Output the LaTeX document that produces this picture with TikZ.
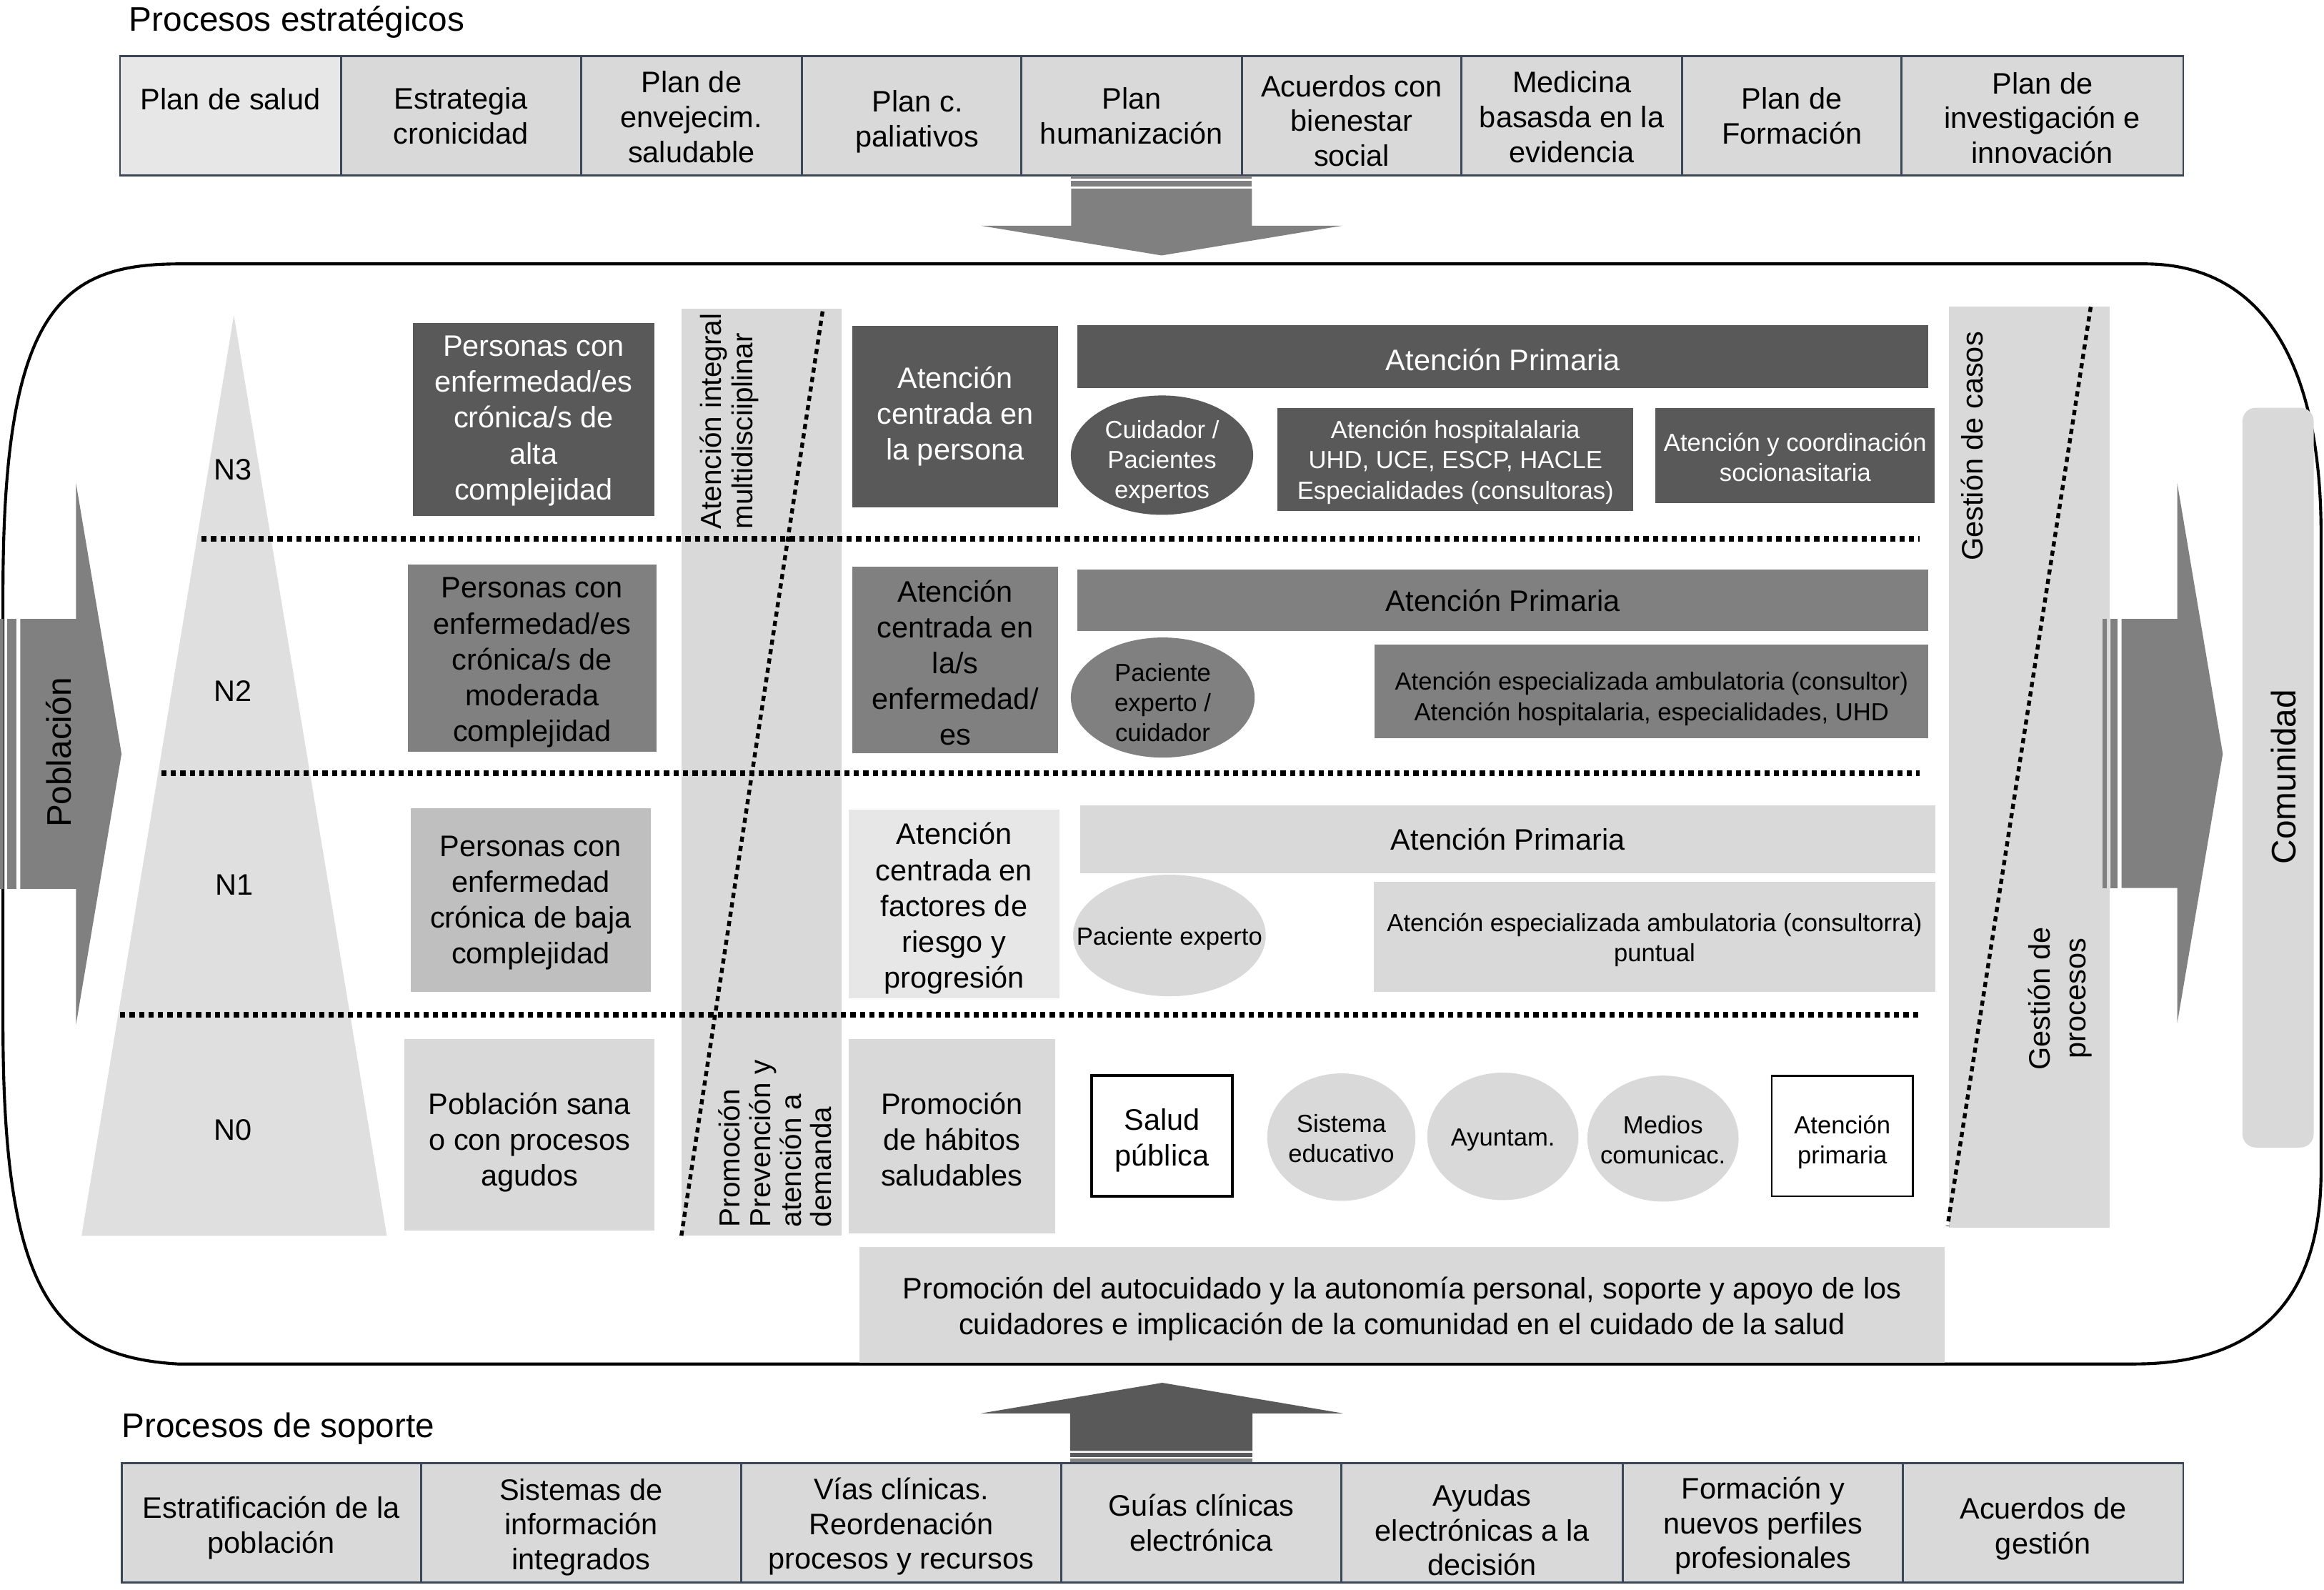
\documentclass[tikz,border=0pt]{standalone}
\usepackage{fontspec}
\setmainfont{Liberation Sans}
\usetikzlibrary{shapes.geometric}
\definecolor{dk}{HTML}{595959}
\definecolor{md}{HTML}{808080}
\definecolor{lt}{HTML}{BFBFBF}
\definecolor{ll}{HTML}{D9D9D9}
\definecolor{vl}{HTML}{E7E7E7}
\definecolor{tri}{HTML}{DFDFDF}
\definecolor{bord}{HTML}{3B4656}
\newcommand\myfs[2]{\fontsize{#1}{#2}\selectfont}
\tikzset{
 cell/.style={draw=bord, line width=1.4pt, fill=ll, inner sep=0pt, align=center, font=\myfs{20}{23.5}},
 blk/.style={inner sep=0pt, align=center, font=\myfs{20}{24.2}},
 sml/.style={inner sep=0pt, align=center, font=\myfs{16.7}{20.3}},
 ellb/.style={ellipse, inner sep=0pt},
 txt/.style={inner sep=0pt, align=center},
 rtxt/.style={rotate=90, inner sep=0pt},
 hdot/.style={line width=3.5pt, dash pattern=on 3.5pt off 2.9pt},
 ddot/.style={line width=2.6pt, dash pattern=on 3.5pt off 2.9pt},
}
% box (style, name, x, y, width, height, text y-offset, text)
\newcommand\bx[8]{%
  \node[#1, minimum width=#5pt, minimum height=#6pt] (#2) at (#3,#4) {};
  \node[#1, fill=none, draw=none, minimum width=0pt, minimum height=0pt] (#2t) at (#3,#4+#7) {#8};}
\begin{document}
\begin{tikzpicture}[x=1pt,y=-1pt]
\useasboundingbox (0,0) rectangle (1568,1072);

% ---------- main container ----------
\draw[line width=2pt] (121,178) -- (1447,178)
  .. controls (1530,178) and (1566,250) .. (1566,360) -- (1566,790)
  .. controls (1566,880) and (1520,920) .. (1440,920) -- (120,920)
  .. controls (35,915) and (2,870) .. (2,690) -- (2,400)
  .. controls (2,210) and (40,178) .. (121,178) -- cycle;

% ---------- titles ----------
\node[anchor=base west, inner sep=0pt, font=\myfs{23}{27}] (t1) at (87,21) {Procesos estratégicos};
\node[anchor=base west, inner sep=0pt, font=\myfs{23}{27}] (t2) at (82,969.5) {Procesos de soporte};

% ---------- top row (procesos estrategicos) ----------
\bx{cell, fill=vl}{s1}{155.5}{78}{149}{80.4}{-11}{Plan de salud}
\bx{cell}{s2}{311}{78}{162}{80.4}{0}{Estrategia\\cronicidad}
\bx{cell}{s3}{466.5}{78}{149}{80.4}{1}{Plan de\\envejecim.\\saludable}
\node[cell, minimum width=148pt, minimum height=80.4pt] (s4) at (615,78) {};
\node[cell, fill=none, draw=none] (s4t) at (619,82) {Plan c.\\paliativos};
\bx{cell}{s5}{763.5}{78}{149}{80.4}{0}{Plan\\humanización}
\bx{cell}{s6}{912}{78}{148}{80.4}{3.5}{Acuerdos con\\bienestar\\social}
\bx{cell}{s7}{1060.5}{78}{149}{80.4}{1}{Medicina\\basasda en la\\evidencia}
\bx{cell}{s8}{1209}{78}{148}{80.4}{0}{Plan de\\Formación}
\bx{cell}{s9}{1378}{78}{190}{80.4}{1.5}{Plan de\\investigación e\\innovación}

% ---------- top arrow ----------
\fill[md] (722.7,118.6) rectangle (844.7,120.5);
\fill[md] (722.7,122) rectangle (844.7,125.6);
\fill[md] (722.7,127.2) -- (844.7,127.2) -- (844.7,152.2) -- (905.8,152.2)
  -- (783.7,172.3) -- (661.6,152.2) -- (722.7,152.2) -- cycle;

% ---------- pyramid and columns ----------
\fill[tri] (157.8,212.6) -- (261,833.6) -- (55,833.6) -- cycle;
\node[inner sep=0pt, fill=ll, minimum width=108pt, minimum height=625.6pt] (col3) at (514,520.8) {};
\node[inner sep=0pt, fill=ll, minimum width=108.4pt, minimum height=621pt] (gest) at (1369.2,517.5) {};
\node[inner sep=0pt, fill=ll, rounded corners=9pt, minimum width=48pt, minimum height=499pt] (com) at (1537,524.5) {};

% ---------- level labels ----------
\node[txt, font=\myfs{20}{24}] (n3) at (157,317) {N3};
\node[txt, font=\myfs{20}{24}] (n2) at (157,466) {N2};
\node[txt, font=\myfs{20}{24}] (n1) at (158,597) {N1};
\node[txt, font=\myfs{20}{24}] (n0) at (157,762) {N0};

% ---------- column 2: population groups ----------
\bx{blk, fill=dk, text=white}{p3}{360}{282.9}{163}{130.3}{1}{Personas con\\enfermedad/es\\crónica/s de\\alta\\complejidad}
\bx{blk, fill=md}{p2}{359}{444}{168}{126}{3}{Personas con\\enfermedad/es\\crónica/s de\\moderada\\complejidad}
\bx{blk, fill=lt}{p1}{358}{607}{162}{124}{2}{Personas con\\enfermedad\\crónica de baja\\complejidad}
\bx{blk, fill=ll}{p0}{357.3}{765.5}{168.6}{129}{5}{Población sana\\o con procesos\\agudos}

% ---------- column 4: type of care ----------
\bx{blk, fill=dk, text=white}{c3}{644.5}{280.8}{139}{122.4}{0}{Atención\\centrada en\\la persona}
\bx{blk, fill=md}{c2}{644.5}{445}{139}{126}{2}{Atención\\centrada en\\la/s\\enfermedad/\\es}
\bx{blk, fill=vl}{c1}{643.75}{609.75}{142.5}{127.5}{3}{Atención\\centrada en\\factores de\\riesgo y\\progresión}
\bx{blk, fill=ll}{c0}{642.25}{766.5}{139.5}{131}{2}{Promoción\\de hábitos\\saludables}

% ---------- N3 right ----------
\bx{blk, fill=dk, text=white}{ap3}{1014}{240.5}{574}{42}{2}{Atención Primaria}
\node[ellb, fill=dk, minimum width=123pt, minimum height=80.5pt] (e3) at (784,307) {};
\node[sml, text=white] (e3t) at (784,311.5) {Cuidador /\\Pacientes\\expertos};
\bx{sml, fill=dk, text=white}{h3}{982}{309.75}{240}{69.5}{2}{Atención hospitalalaria\\UHD, UCE, ESCP, HACLE\\Especialidades (consultoras)}
\bx{sml, fill=dk, text=white}{s3b}{1211.25}{307.25}{188.5}{64.5}{1}{Atención y coordinación\\socionasitaria}

% ---------- N2 right ----------
\bx{blk, fill=md}{ap2}{1014}{404.85}{574}{41.7}{0}{Atención Primaria}
\node[ellb, fill=md, minimum width=124pt, minimum height=81pt] (e2) at (784.5,470.5) {};
\node[sml] (e2t) at (784.5,474) {Paciente\\experto /\\cuidador};
\bx{sml, fill=md}{sp2}{1114.3}{466.3}{373.4}{63.4}{5}{Atención especializada ambulatoria (consultor)\\Atención hospitalaria, especialidades, UHD}

% ---------- N1 right ----------
\bx{blk, fill=ll}{ap1}{1017.35}{566}{576.7}{46}{0}{Atención Primaria}
\node[ellb, fill=ll, minimum width=130pt, minimum height=82pt] (e1) at (789,631) {};
\node[sml] (e1t) at (789,633) {Paciente experto};
\bx{sml, fill=ll}{sp1}{1116.35}{632}{378.7}{74}{2}{Atención especializada ambulatoria (consultorra)\\puntual}

% ---------- N0 right ----------
\bx{blk, fill=white, draw=black, line width=2pt}{salud}{784}{766.3}{95}{81.4}{3}{Salud\\pública}
\node[ellb, fill=ll, minimum width=100pt, minimum height=86pt] (se) at (905,767) {};
\node[sml] (set) at (905,768) {Sistema\\educativo};
\node[ellb, fill=ll, minimum width=102pt, minimum height=86pt] (ay) at (1014,766.5) {};
\node[sml] (ayt) at (1014,769) {Ayuntam.};
\node[ellb, fill=ll, minimum width=102pt, minimum height=85pt] (mc) at (1122,768) {};
\node[sml] (mct) at (1122,769) {Medios\\comunicac.};
\bx{sml, fill=white, draw=black, line width=1.2pt}{apr}{1243}{766.3}{95}{81.4}{4}{Atención\\primaria}

% ---------- bottom wide box ----------
\bx{blk, font=\myfs{20}{24}, fill=ll}{auto}{946}{880}{732}{78}{3}{Promoción del autocuidado y la autonomía personal, soporte y apoyo de los\\cuidadores e implicación de la comunidad en el cuidado de la salud}

% ---------- dotted lines ----------
\draw[hdot] (136,363.4) -- (1295,363.4);
\draw[hdot] (108.8,521.5) -- (1295,521.5);
\draw[hdot] (81,684.5) -- (1295,684.5);
\draw[ddot] (555,210) -- (459.7,833.6);
\draw[ddot] (1410.6,207) -- (1314,827);

% ---------- rotated texts ----------
\node[rtxt, anchor=west, align=left, font=\myfs{19.5}{21}] (ait) at (492,357) {Atención integral\\multidisciiplinar};
\node[rtxt, anchor=west, align=left, font=\myfs{19.5}{20.5}] (ppt) at (523,828) {Promoción\\Prevención y\\atención a\\demanda};
\node[rtxt, anchor=base, font=\myfs{20}{24}] (gct) at (1338,301) {Gestión de casos};
\node[rtxt, align=center, font=\myfs{20}{24}] (gpt) at (1390,673.5) {Gestión de\\procesos};
\node[rtxt, anchor=base, font=\myfs{23}{27}] (comt) at (1548.8,524) {Comunidad};

% ---------- right arrow (to Comunidad) ----------
\fill[md] (1418.6,417.5) rectangle (1421.3,599);
\fill[md] (1423.7,417.5) rectangle (1428.6,599);
\fill[md] (1431.4,417.5) -- (1469,417.5) -- (1469,326) -- (1499.7,508.5)
  -- (1469,690) -- (1469,599) -- (1431.4,599) -- cycle;

% ---------- left arrow (Poblacion) ----------
\fill[md] (0,417.5) rectangle (2.5,599.5);
\fill[md] (5,417.5) rectangle (11,599.5);
\fill[md] (13.7,417.5) -- (51.3,417.5) -- (51.3,326) -- (82,508.5)
  -- (51.3,691) -- (51.3,599.5) -- (13.7,599.5) -- cycle;
\node[rtxt, anchor=base, font=\myfs{23}{27}] (pobt) at (48.1,507.6) {Población};

% ---------- bottom arrow ----------
\fill[dk] (784.2,932.7) -- (906,953.3) -- (845,953.3) -- (845,978.7)
  -- (722,978.7) -- (722,953.3) -- (662,953.3) -- cycle;
\fill[dk] (722,980) rectangle (845,982.7);
\fill[md] (722,983.9) rectangle (845,986.3);

% ---------- bottom row (procesos de soporte) ----------
\bx{cell}{b1}{183}{1027.15}{202}{80.7}{3.5}{Estratificación de la\\población}
\bx{cell}{b2}{392}{1027.15}{216}{80.7}{3}{Sistemas de\\información\\integrados}
\bx{cell}{b3}{608}{1027.15}{216}{80.7}{2.5}{Vías clínicas.\\Reordenación\\procesos y recursos}
\bx{cell}{b4}{810.5}{1027.15}{189}{80.7}{0}{Guías clínicas\\electrónica}
\bx{cell}{b5}{1000}{1027.15}{190}{80.7}{5}{Ayudas\\electrónicas a la\\decisión}
\bx{cell}{b6}{1189.5}{1027.15}{189}{80.7}{2}{Formación y\\nuevos perfiles\\profesionales}
\bx{cell}{b7}{1378.5}{1027.15}{189}{80.7}{4}{Acuerdos de\\gestión}
\end{tikzpicture}
\end{document}
